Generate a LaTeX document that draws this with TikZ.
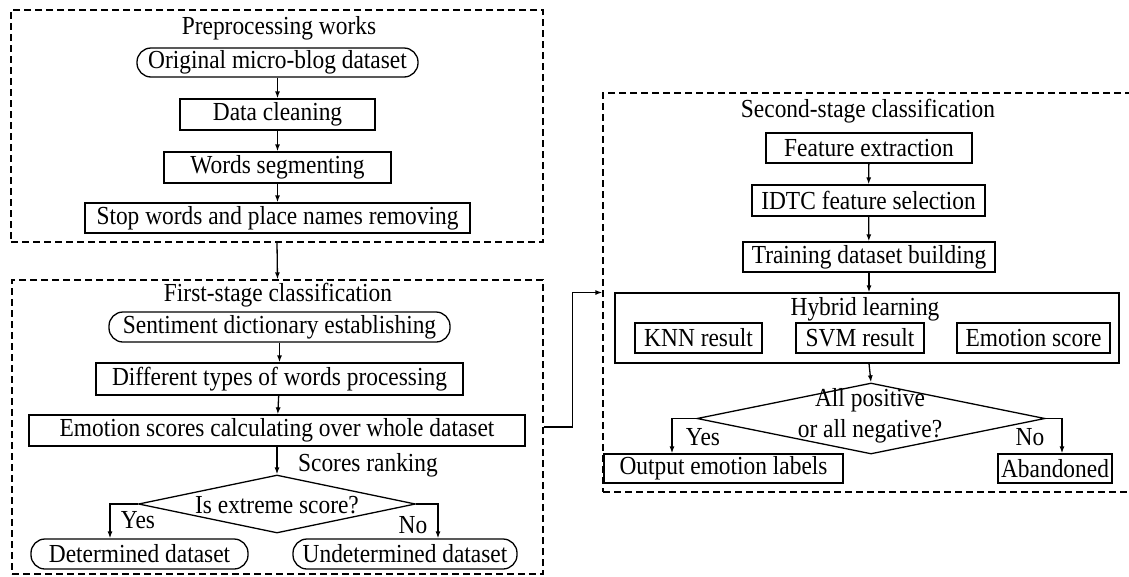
\documentclass[tikz,border=0pt]{standalone}
\usepackage{fontspec}
\setmainfont{Liberation Serif}[FakeStretch=0.9]
\usetikzlibrary{arrows.meta,shapes.geometric}

\begin{document}
\begin{tikzpicture}[x=1pt,y=-1pt,
  font=\fontsize{26}{31}\selectfont,
  line width=1.3pt,
  stepbox/.style={draw, rectangle, inner sep=0pt},
  roundbox/.style={draw, rectangle, rounded corners=14pt, inner sep=0pt},
  group/.style={draw, rectangle, dash pattern=on 7pt off 4pt, inner sep=0pt},
  decision/.style={draw, diamond, inner sep=0pt, text width=0pt},
  txt/.style={inner sep=0pt},
  arr/.style={-{Latex[length=7pt,width=5pt]}},
]
\useasboundingbox (0,0) rectangle (1129,576);

% ---------- Preprocessing works ----------
\node[group, minimum width=532, minimum height=232] (pre) at (277,126) {};
\node[txt] (pretitle) at (279,28) {Preprocessing works};
\node[roundbox, minimum width=281, minimum height=29] (orig) at (277.5,62.5) {Original micro-blog dataset};
\node[stepbox, minimum width=195, minimum height=31] (clean) at (277.5,114.5) {Data cleaning};
\node[stepbox, minimum width=227, minimum height=31] (seg) at (277.5,167.5) {Words segmenting};
\node[stepbox, minimum width=385, minimum height=30] (stop) at (277.5,218) {Stop words and place names removing};

\draw[arr] (orig) -- (clean);
\draw[arr] (clean) -- (seg);
\draw[arr] (seg) -- (stop);

% ---------- First-stage classification ----------
\node[group, minimum width=531, minimum height=294] (first) at (277.5,427) {};
\draw[arr] (pre.south) -- (first.north);
\node[txt] (firsttitle) at (278,295) {First-stage classification};
\node[roundbox, minimum width=341, minimum height=30] (sent) at (279.5,327) {Sentiment dictionary establishing};
\node[stepbox, minimum width=367, minimum height=32] (diff) at (279.5,379) {Different types of words processing};
\node[stepbox, minimum width=496, minimum height=31] (emo) at (277,430.5) {Emotion scores calculating over whole dataset};
\node[decision, minimum width=277, minimum height=58] (d1) at (277,504) {};
\node[txt] (d1text) at (277,505) {Is extreme score?};
\node[txt] (rank) at (368,465) {Scores ranking};
\node[roundbox, minimum width=217, minimum height=30] (det) at (139.5,554) {Determined dataset};
\node[roundbox, minimum width=224, minimum height=30] (und) at (405,554) {Undetermined dataset};
\node[txt] (yes1) at (138,520) {Yes};
\node[txt] (no1) at (413,525) {No};

\draw[arr] (sent) -- (diff);
\draw[arr] (diff) -- (emo);
\draw[arr] (emo) -- (d1.north);
\draw[arr] (d1.west) -| ([xshift=-29.5pt]det.north);
\draw[arr] (d1.east) -| ([xshift=33pt]und.north);

% ---------- Second-stage classification ----------
\node[group, minimum width=527, minimum height=399] (sec) at (866.5,292.5) {};
\draw[arr] (first.east) -- ++(29,0) |- (sec.west);
\node[txt] (sectitle) at (868,111) {Second-stage classification};
\node[stepbox, minimum width=206, minimum height=30] (feat) at (869,148) {Feature extraction};
\node[stepbox, minimum width=233, minimum height=31] (idtc) at (868.5,200.5) {IDTC feature selection};
\node[stepbox, minimum width=252, minimum height=30] (train) at (869,257) {Training dataset building};
\node[stepbox, minimum width=504, minimum height=70] (hyb) at (867,328) {};
\node[txt] (hybtitle) at (865,309) {Hybrid learning};
\node[stepbox, minimum width=127, minimum height=30] (knn) at (698.5,338) {KNN result};
\node[stepbox, minimum width=128, minimum height=30] (svm) at (860,338) {SVM result};
\node[stepbox, minimum width=153, minimum height=30] (escore) at (1033.5,338) {Emotion score};
\node[decision, minimum width=348, minimum height=71] (d2) at (871,418.5) {};
\node[txt, align=center] (d2text) at (870,416) {All positive\\or all negative?};
\node[stepbox, minimum width=239, minimum height=29] (out) at (723.5,468.5) {Output emotion labels};
\node[stepbox, minimum width=114, minimum height=29] (aband) at (1055,468.5) {Abandoned};
\node[txt] (yes2) at (703,437) {Yes};
\node[txt] (no2) at (1030,437) {No};

\draw[arr] (feat) -- (idtc);
\draw[arr] (idtc) -- (train);
\draw[arr] (train) -- ([xshift=2pt]hyb.north);
\draw[arr] ([xshift=2pt]hyb.south) -- (d2.north);
\draw[arr] (d2.west) -| ([xshift=-51.5pt]out.north);
\draw[arr] (d2.east) -| ([xshift=7pt]aband.north);
\end{tikzpicture}
\end{document}
